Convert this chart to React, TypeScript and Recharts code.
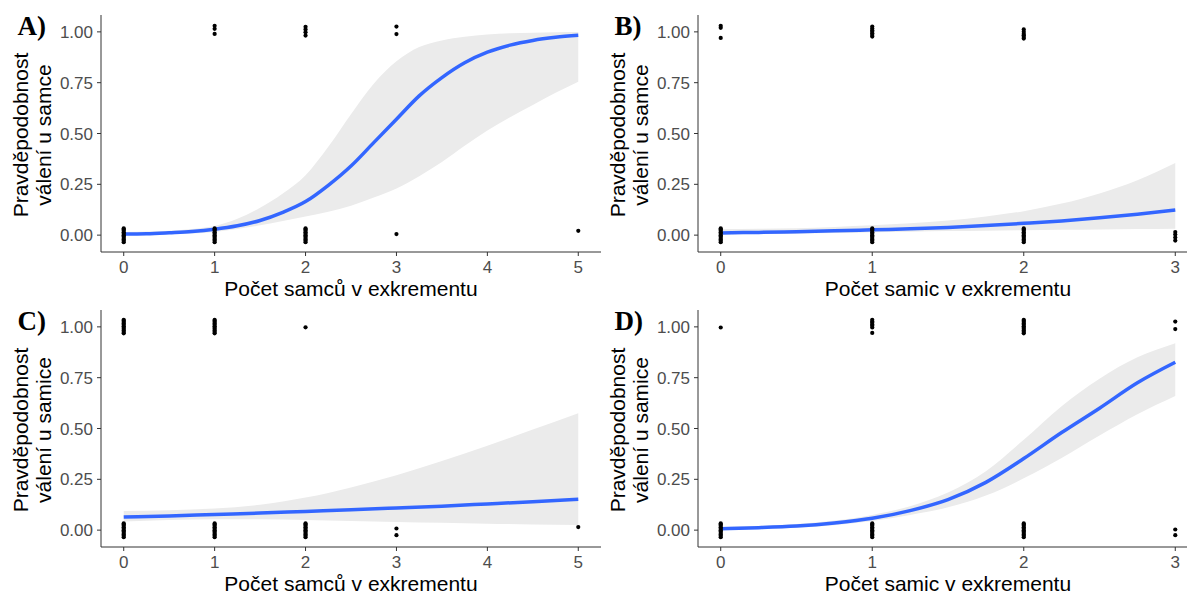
import React from 'react';
import { ComposedChart, XAxis, YAxis, Area, Line, Scatter } from 'recharts';

// ---------- Panel A: males, count of males ----------
const xA = [0, 0.25, 0.5, 0.75, 1, 1.25, 1.5, 1.75, 2, 2.25, 2.5, 2.75, 3, 3.25, 3.5, 3.75, 4, 4.25, 4.5, 4.75, 5];
const fitA = [0.005, 0.007, 0.012, 0.018, 0.029, 0.046, 0.072, 0.112, 0.165, 0.245, 0.34, 0.455, 0.57, 0.685, 0.775, 0.848, 0.9, 0.935, 0.958, 0.973, 0.983];
const loA = [0.001, 0.002, 0.004, 0.008, 0.016, 0.03, 0.048, 0.07, 0.092, 0.115, 0.145, 0.185, 0.23, 0.29, 0.36, 0.44, 0.515, 0.58, 0.64, 0.7, 0.755];
const hiA = [0.015, 0.018, 0.022, 0.03, 0.045, 0.08, 0.135, 0.205, 0.295, 0.435, 0.595, 0.745, 0.855, 0.925, 0.958, 0.976, 0.987, 0.993, 0.996, 0.998, 0.999];

// ---------- Panel B: males, count of females ----------
const xB = [0, 0.25, 0.5, 0.75, 1, 1.25, 1.5, 1.75, 2, 2.25, 2.5, 2.75, 3];
const fitB = [0.011, 0.0135, 0.017, 0.021, 0.026, 0.031, 0.038, 0.047, 0.058, 0.07, 0.085, 0.103, 0.124];
const loB = [0.003, 0.005, 0.007, 0.01, 0.014, 0.017, 0.02, 0.022, 0.024, 0.026, 0.028, 0.03, 0.032];
const hiB = [0.03, 0.031, 0.034, 0.04, 0.048, 0.058, 0.072, 0.092, 0.118, 0.155, 0.205, 0.27, 0.355];

// ---------- Panel C: females, count of males ----------
const xC = [0, 0.5, 1, 1.5, 2, 2.5, 3, 3.5, 4, 4.5, 5];
const fitC = [0.064, 0.07, 0.077, 0.084, 0.092, 0.1, 0.109, 0.118, 0.129, 0.14, 0.152];
const loC = [0.043, 0.05, 0.054, 0.054, 0.05, 0.045, 0.04, 0.036, 0.032, 0.028, 0.025];
const hiC = [0.094, 0.098, 0.106, 0.125, 0.16, 0.21, 0.27, 0.34, 0.415, 0.495, 0.575];

// ---------- Panel D: females, count of females ----------
const xD = [0, 0.25, 0.5, 0.75, 1, 1.25, 1.5, 1.75, 2, 2.25, 2.5, 2.75, 3];
const fitD = [0.007, 0.012, 0.02, 0.035, 0.058, 0.096, 0.15, 0.235, 0.352, 0.48, 0.6, 0.725, 0.826];
const loD = [0.003, 0.006, 0.012, 0.024, 0.045, 0.075, 0.112, 0.17, 0.255, 0.355, 0.465, 0.57, 0.66];
const hiD = [0.015, 0.02, 0.03, 0.047, 0.075, 0.118, 0.185, 0.29, 0.445, 0.61, 0.745, 0.85, 0.92];

// ---------- jittered observations (x position, list of jittered y values) ----------
const zeroBar = [-0.035, -0.028, -0.021, -0.014, -0.007, 0, 0.007, 0.014, 0.021, 0.028, 0.033];
const oneBar = [0.968, 0.975, 0.982, 0.989, 0.996, 1.003, 1.01, 1.017, 1.024, 1.03, 1.035];

const stackXA = [0, 1, 2, 1, 2, 3, 3, 5];
const stackYA = [zeroBar, zeroBar, zeroBar, [1.03, 1.015, 0.99], [1.025, 1.012, 0.998, 0.982], [1.026, 0.989], [0.005], [0.021]];

const stackXB = [0, 1, 2, 0, 1, 2, 3];
const stackYB = [zeroBar, zeroBar, zeroBar, [1.03, 1.02, 0.97], [0.977, 0.985, 0.993, 1.0, 1.008, 1.016, 1.026], [0.967, 0.975, 0.983, 0.99, 1.0, 1.012], [0.015, 0.003, -0.012, -0.027]];

const stackXC = [0, 1, 2, 0, 1, 2, 3, 5];
const stackYC = [zeroBar, zeroBar, zeroBar, oneBar, oneBar, [0.998], [0.008, -0.025], [0.015]];

const stackXD = [0, 1, 2, 0, 1, 2, 3, 3];
const stackYD = [zeroBar, zeroBar, zeroBar, [0.997], [1.035, 1.027, 1.02, 1.012, 1.005, 0.997, 0.97], oneBar, [1.026, 0.989], [0.003, -0.025]];

const ticksX5 = [0, 1, 2, 3, 4, 5];
const ticksX3 = [0, 1, 2, 3];
const ticksY = [0, 0.25, 0.5, 0.75, 1];

const SANS = '"Liberation Sans", Arial, Helvetica, sans-serif';
const SERIF = '"Liberation Serif", "Times New Roman", serif';
const AXIS = '#333333';

function buildRows(xs: number[], fit: number[], lo: number[], hi: number[]) {
  return xs.map((x, i) => ({ x, fit: fit[i], band: [lo[i], hi[i]] }));
}

function buildPoints(sx: number[], sy: number[][]) {
  const out: { x: number; y: number }[] = [];
  sx.forEach((x, i) => sy[i].forEach((y) => out.push({ x, y })));
  return out;
}

const Dot = (props: any) => {
  if (props.cx == null || props.cy == null) return null;
  return <circle cx={props.cx} cy={props.cy} r={2.1} fill="#000" />;
};

type PanelProps = {
  left: number;
  top: number;
  tag: string;
  rows: any[];
  points: any[];
  xDomain: [number, number];
  xTicks: number[];
  xTitle: string;
  yTitle1: string;
  yTitle2: string;
};

function Panel({ left, top, tag, rows, points, xDomain, xTicks, xTitle, yTitle1, yTitle2 }: PanelProps) {
  const yLabel = (p: any) => {
    const vb = p.viewBox || {};
    const ax = vb.x + vb.width;
    const cy = vb.y + vb.height / 2 + 1.5;
    return (
      <g>
        <text x={17.5} y={34.5} fontFamily={SERIF} fontWeight="bold" fontSize={27} fill="#000">
          {tag}
        </text>
        <text
          transform={`translate(${ax - 81},${cy}) rotate(-90)`}
          textAnchor="middle"
          dominantBaseline="central"
          fontFamily={SANS}
          fontSize={21}
          fill="#000"
        >
          {yTitle1}
        </text>
        <text
          transform={`translate(${ax - 58},${cy}) rotate(-90)`}
          textAnchor="middle"
          dominantBaseline="central"
          fontFamily={SANS}
          fontSize={21}
          fill="#000"
        >
          {yTitle2}
        </text>
      </g>
    );
  };
  const xLabel = (p: any) => {
    const vb = p.viewBox || {};
    return (
      <text x={vb.x + vb.width / 2} y={vb.y + 44} textAnchor="middle" fontFamily={SANS} fontSize={21} fill="#000">
        {xTitle}
      </text>
    );
  };
  return (
    <div style={{ position: 'absolute', left, top }}>
      <ComposedChart width={601} height={300} data={rows} margin={{ top: 15, right: 0, bottom: 0, left: 40 }}>
        <XAxis
          type="number"
          dataKey="x"
          domain={xDomain}
          ticks={xTicks}
          allowDataOverflow
          height={48}
          tickSize={4}
          tickMargin={5}
          stroke={AXIS}
          tick={{ fontSize: 17, fill: '#4D4D4D', fontFamily: SANS }}
          tickFormatter={(v: number) => String(v)}
          label={xLabel}
        />
        <YAxis
          type="number"
          domain={[-0.083, 1.083]}
          ticks={ticksY}
          allowDataOverflow
          width={61}
          tickSize={4}
          tickMargin={4}
          stroke={AXIS}
          tick={{ fontSize: 17, fill: '#4D4D4D', fontFamily: SANS }}
          tickFormatter={(v: number) => v.toFixed(2)}
          label={yLabel}
        />
        <Area dataKey="band" type="monotone" fill="#EBEBEB" fillOpacity={1} stroke="none" isAnimationActive={false} />
        <Line dataKey="fit" type="monotone" stroke="#3366FF" strokeWidth={3.5} dot={false} isAnimationActive={false} />
        <Scatter data={points} dataKey="y" shape={Dot} isAnimationActive={false} />
      </ComposedChart>
    </div>
  );
}

export default function App() {
  return (
    <div style={{ position: 'absolute', left: 0, top: 0, width: 1187, height: 595, overflow: 'hidden', background: '#fff' }}>
      <Panel
        left={0}
        top={0}
        tag="A)"
        rows={buildRows(xA, fitA, loA, hiA)}
        points={buildPoints(stackXA, stackYA)}
        xDomain={[-0.25, 5.25]}
        xTicks={ticksX5}
        xTitle="Počet samců v exkrementu"
        yTitle1="Pravděpodobnost"
        yTitle2="válení u samce"
      />
      <Panel
        left={597}
        top={0}
        tag="B)"
        rows={buildRows(xB, fitB, loB, hiB)}
        points={buildPoints(stackXB, stackYB)}
        xDomain={[-0.15, 3.15]}
        xTicks={ticksX3}
        xTitle="Počet samic v exkrementu"
        yTitle1="Pravděpodobnost"
        yTitle2="válení u samce"
      />
      <Panel
        left={0}
        top={294.5}
        tag="C)"
        rows={buildRows(xC, fitC, loC, hiC)}
        points={buildPoints(stackXC, stackYC)}
        xDomain={[-0.25, 5.25]}
        xTicks={ticksX5}
        xTitle="Počet samců v exkrementu"
        yTitle1="Pravděpodobnost"
        yTitle2="válení u samice"
      />
      <Panel
        left={597}
        top={294.5}
        tag="D)"
        rows={buildRows(xD, fitD, loD, hiD)}
        points={buildPoints(stackXD, stackYD)}
        xDomain={[-0.15, 3.15]}
        xTicks={ticksX3}
        xTitle="Počet samic v exkrementu"
        yTitle1="Pravděpodobnost"
        yTitle2="válení u samice"
      />
    </div>
  );
}
